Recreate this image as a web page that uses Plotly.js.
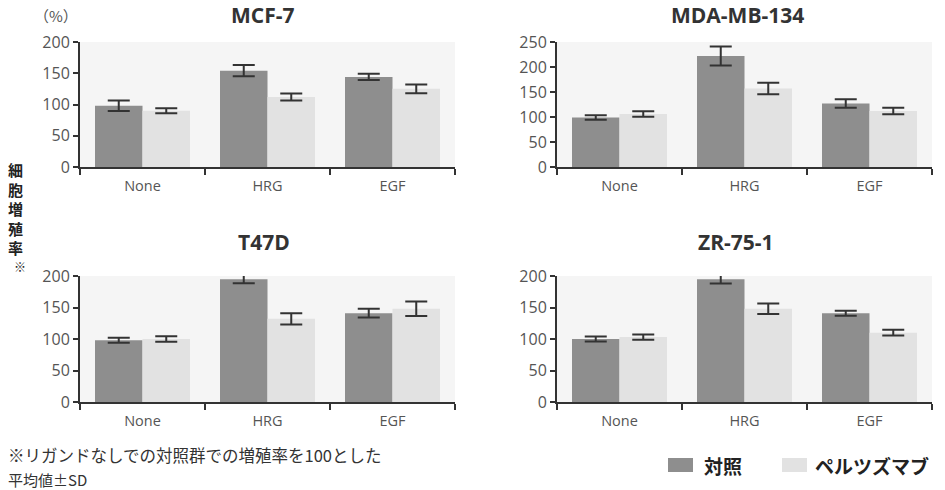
<!DOCTYPE html>
<html>
<head>
<meta charset="utf-8">
<script src="https://cdn.plot.ly/plotly-3.0.1.min.js"></script>
<style>html,body{margin:0;padding:0;background:#fff;}#chart{width:945px;height:490px;}</style>
</head>
<body>
<div id="chart"></div>
<script>
// ---- data ----
const categories = ['None', 'HRG', 'EGF'];
const cellLines = ['MCF-7', 'MDA-MB-134', 'T47D', 'ZR-75-1'];
const seriesNames = ['対照', 'ペルツズマブ'];
const controlValues = [
  [98, 154, 144],
  [99, 222, 127],
  [98, 195, 141],
  [100, 195, 141]
];
const controlSD = [
  [8.5, 9, 5],
  [4.5, 19, 8.5],
  [4, 6.5, 7],
  [4, 7, 4]
];
const pertuzumabValues = [
  [90, 112, 125],
  [106, 157, 112],
  [100, 132, 148],
  [103, 148, 110]
];
const pertuzumabSD = [
  [4, 5.5, 7],
  [5.5, 11.5, 6.5],
  [4.5, 9, 11.5],
  [4, 8.5, 4.5]
];
const yMax = [200, 250, 200, 200];
const yTickStep = 50;
const yUnitLabel = '（%）';
const yAxisLabel = ['細', '胞', '増', '殖', '率'];
const yAxisMark = '※';
const footnoteLines = ['※リガンドなしでの対照群での増殖率を100とした', '平均値±SD'];

// ---- styles / layout geometry ----
const W = 945, H = 490;
const px = x => x / W;
const py = y => 1 - y / H;
const colors = ['#8e8e8e', '#e2e2e2'];
const plotBg = '#f5f5f5';
const lineColor = '#333333';
const tickFont = {family: 'Open Sans, sans-serif', size: 14.5, color: '#555555'};
const cjk = 'Noto Sans CJK JP, sans-serif';

const panels = [
  {x0: 80, x1: 455, y0: 42, y1: 167, tx: 262, ty: 15},
  {x0: 557, x1: 932, y0: 42, y1: 167, tx: 737, ty: 15},
  {x0: 80, x1: 455, y0: 276, y1: 402, tx: 264, ty: 242},
  {x0: 557, x1: 932, y0: 276, y1: 402, tx: 736, ty: 242}
];

const data = [];
const layout = {
  width: W, height: H,
  margin: {l: 0, r: 0, t: 0, b: 0},
  paper_bgcolor: '#ffffff',
  barmode: 'group',
  bargap: 0.24,
  bargroupgap: 0,
  showlegend: false,
  annotations: [],
  shapes: []
};

panels.forEach((p, i) => {
  const n = i === 0 ? '' : String(i + 1);
  const xa = 'x' + n, ya = 'y' + n;
  const seriesVals = [controlValues[i], pertuzumabValues[i]];
  const seriesSD = [controlSD[i], pertuzumabSD[i]];
  seriesVals.forEach((vals, s) => {
    data.push({
      type: 'bar',
      x: categories,
      y: vals,
      name: seriesNames[s],
      xaxis: xa, yaxis: ya,
      marker: {color: colors[s], line: {width: 0}},
      error_y: {type: 'data', array: seriesSD[s], visible: true, color: lineColor, thickness: 2, width: 11},
      hoverinfo: 'x+y'
    });
  });
  layout['xaxis' + n] = {
    domain: [px(p.x0), px(p.x1)],
    anchor: ya,
    type: 'category',
    tickson: 'boundaries',
    ticks: 'outside', ticklen: 6, tickwidth: 2, tickcolor: lineColor,
    showline: true, linecolor: lineColor, linewidth: 2,
    showgrid: false, zeroline: false,
    tickfont: tickFont,
    ticklabelstandoff: 5,
    fixedrange: true
  };
  const tv = [];
  for (let v = 0; v <= yMax[i]; v += yTickStep) tv.push(v);
  layout['yaxis' + n] = {
    domain: [py(p.y1), py(p.y0)],
    anchor: xa,
    range: [0, yMax[i]],
    tickvals: tv,
    ticktext: tv.map(String),
    ticks: 'outside', ticklen: 5, tickwidth: 2, tickcolor: lineColor,
    showline: true, linecolor: lineColor, linewidth: 2,
    showgrid: false, zeroline: false,
    tickfont: Object.assign({}, tickFont, {size: 16}),
    fixedrange: true
  };
  layout.shapes.push({
    type: 'rect', xref: xa + ' domain', yref: ya + ' domain',
    x0: 0, x1: 1, y0: 0, y1: 1,
    fillcolor: plotBg, line: {width: 0}, layer: 'below'
  });
  layout.annotations.push({
    text: '<b>' + cellLines[i] + '</b>',
    xref: 'paper', yref: 'paper', x: px(p.tx), y: py(p.ty),
    xanchor: 'center', yanchor: 'middle', showarrow: false,
    font: {family: 'Open Sans, sans-serif', size: 21, color: '#333333'}
  });
});

// unit label
layout.annotations.push({
  text: yUnitLabel, xref: 'paper', yref: 'paper', x: px(56), y: py(16),
  xanchor: 'center', yanchor: 'middle', showarrow: false,
  font: {family: cjk, size: 15, color: '#555555'}
});
// vertical axis label
layout.annotations.push({
  text: '<b>' + yAxisLabel.join('<br>') + '</b>', xref: 'paper', yref: 'paper',
  x: px(15), y: py(208), xanchor: 'center', yanchor: 'middle', showarrow: false,
  font: {family: cjk, size: 15, color: '#222222'}
});
layout.annotations.push({
  text: '<b>' + yAxisMark + '</b>', xref: 'paper', yref: 'paper', x: px(20), y: py(266),
  xanchor: 'center', yanchor: 'middle', showarrow: false,
  font: {family: cjk, size: 12, color: '#222222'}
});
// footnote
const footPos = [{y: 455, size: 16.5}, {y: 479, size: 15}];
footnoteLines.forEach((t, k) => {
  layout.annotations.push({
    text: t, xref: 'paper', yref: 'paper', x: px(7), y: py(footPos[k].y),
    xanchor: 'left', yanchor: 'middle', showarrow: false, borderpad: 0,
    font: {family: cjk, size: footPos[k].size, color: '#333333'}
  });
});
// legend
const legendPos = [{sx: 668, tx: 702}, {sx: 782, tx: 813}];
seriesNames.forEach((name, s) => {
  const lp = legendPos[s];
  layout.shapes.push({
    type: 'rect', xref: 'paper', yref: 'paper',
    x0: px(lp.sx), x1: px(lp.sx + 25), y0: py(472), y1: py(458),
    fillcolor: colors[s], line: {width: 0}
  });
  layout.annotations.push({
    text: '<b>' + name + '</b>', xref: 'paper', yref: 'paper',
    x: px(lp.tx), y: py(465), xanchor: 'left', yanchor: 'middle', showarrow: false,
    font: {family: cjk, size: 19, color: '#222222'}
  });
});

Plotly.newPlot('chart', data, layout, {displayModeBar: false, staticPlot: true});
</script>
</body>
</html>
